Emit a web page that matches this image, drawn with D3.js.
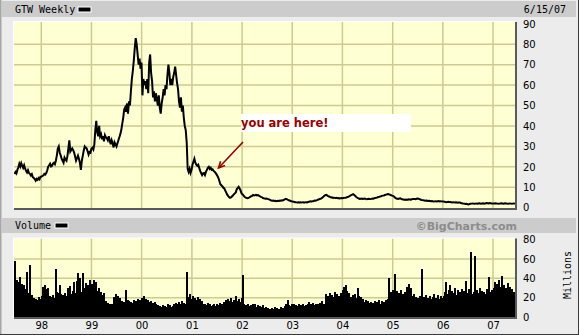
<!DOCTYPE html>
<html>
<head>
<meta charset="utf-8">
<script src="https://cdn.jsdelivr.net/npm/d3@7"></script>
<style>
  body { margin: 0; background: #ececec; }
  svg { display: block; }
</style>
</head>
<body>
<svg id="chart"></svg>
<script>
// Weekly closes (USD), one array per calendar year, first week 1997-06-20
const price1997 = [16.5,17.5,16.8,18.5,19.8,21.5,20.2,21.8,20.5,19.5,20.8,19.2,18,17.2,18.3,17,16.6,15.8,16.4,15,14.6,14,13.2,14.1,13.6,14.5,13.9,15.2];
const price1998 = [15.2,15.5,15.8,16.5,16.2,17,18.2,20,20.8,21.5,20.2,20.5,21.6,22,21.3,23,25.5,29,30,27,25.6,24,23,22,24.5,23.6,23,25.2,29,33,27.5,28.3,29,28.2,27,25.1,23,24.2,25.5,24,22,18.5,23,25.5,28,30,29.4,29,27.6,26,27.3,27];
const price1999 = [29,29.4,28.5,31,38,42.5,37,35,40,35,36,33.5,35,32.5,35.5,34.5,34,33,35,33,31,33,31.5,29.5,32,31,30,31.5,33,34.5,36,38,41,44,48,49,47,51,46,52,50,57,63,67,72,78,83,80,75,70,73,68,71];
const price2000 = [55,63,60,62,58,63,56,71,75,66,62,54,57,52,56,53,50,55,49,46,51,54,58,55,60,58,65,70,66,60,63,60,64,66,69,65,61,58,52,49,54,47,50,44,40,38,32,19,17.5,19,17,18.5];
const price2001 = [21,22.5,24,22,21,20.5,21,19.5,18,17,16,16.8,17,16,17.5,18.5,19.5,20,19,19.5,18.5,18.8,18,17.6,17,16.3,15.5,14.5,13,11.5,11,10.5,9.8,9.5,8.5,7.5,6.5,5.8,5.2,4.8,5,5.5,6,6.5,7,7.5,9,9.6,10.2,9.4,8.5,7];
const price2002 = [6.6,6,5.4,5,4.8,4.6,4.7,5,5.3,5.6,5.8,6.2,6,6.1,6.3,6,6.2,5.9,5.6,5.3,5.2,4.8,4.6,4.5,4.4,4.5,4.3,4.2,4,3.7,3.5,3.4,3.5,3.3,3.4,3.2,3.3,3.4,3.3,3.5,3.4,3.6,3.5,3.8,4.1,4.3,4.2,3.9,3.6,3.5,3.3,3.1];
const price2003 = [3,2.9,2.8,2.7,2.6,2.5,2.6,2.5,2.6,2.5,2.6,2.7,2.5,2.6,2.7,2.6,2.8,2.9,3,3.1,3,3.2,3.3,3.5,3.4,3.6,3.8,4,4.2,4.4,4.6,4.9,5.3,5.8,6.1,6.3,6,5.7,5.5,5.3,5,5.1,4.8,4.9,4.8,4.7,4.8,4.6,4.7,4.5,4.6,4.7];
const price2004 = [4.6,4.7,4.8,4.9,5,5.2,5.3,5.6,5.9,6.2,6.4,6.6,6.3,5.9,5.4,5,4.7,4.5,4.3,4.4,4.5,4.3,4.4,4.5,4.3,4.2,4.3,4.4,4.2,4.2,4.3,4.5,4.4,4.6,4.7,4.9,5,5.2,5.3,5.5,5.6,5.8,5.9,6,6.2,6.4,6.5,6.7,6.6,6.4,6.2,6,5.9];
const price2005 = [5.6,5.2,4.8,4.5,4.4,4.3,4.5,4.6,4.3,4.1,4,3.9,4,3.8,4,3.9,4.1,4,3.9,4.1,4.2,4.2,4.3,4.2,4.4,4.5,4.4,4.2,4,3.8,3.7,3.6,3.5,3.4,3.5,3.4,3.3,3.4,3.3,3.2,3.3,3.1,3,3.1,3.2,3.1,3.2,3.3,3.1,3.2,3.1,3];
const price2006 = [3,2.9,2.8,2.7,2.8,2.9,2.8,2.8,2.7,2.6,2.7,2.6,2.5,2.6,2.5,2.4,2.5,2.5,2.3,2.2,2.1,2,1.9,1.8,1.9,1.7,1.6,1.8,1.9,2,2.1,2,1.9,2,2.1,2,2.1,2.2,2.1,2,2.1,2.2,2,2.1,2.2,2.3,2.2,2.1,2.3,2.2,2.1,2];
const price2007 = [2,2.1,2.2,2.1,2,1.9,2,2.1,2.2,2.1,2,2.1,2.2,2.1,2,1.9,2,2.1,2,1.9,2,2.1,2,2];

// Weekly volume (millions of shares)
const vol1997 = [58,24,38,31,36,41,30,34,27,33,29,22,46,20,25,18,54,17,23,15,20,16,19,14,18,21,15,19];
const vol1998 = [22,31,27,33,29,24,30,19,22,17,21,16,23,18,20,50,26,21,25,33,24,20,23,18,25,21,22,30,19,32,24,20,27,36,22,25,37,45,23,28,40,21,26,45,24,30,35,22,33,28,38,26];
const vol1999 = [34,29,38,31,36,27,24,30,21,26,19,23,18,25,14,17,12,15,11,13,10,14,12,21,17,24,19,22,16,20,14,17,13,16,12,28,15,18,13,17,14,16,12,15,18,13,17,14,19,15,18,16,20];
const vol2000 = [17,22,15,19,14,18,16,13,17,12,15,14,11,16,13,9,12,8,11,10,7,12,9,11,8,10,13,9,12,7,10,11,14,12,15,10,13,16,11,14,12,17,13,15,11,14,47,21,18,24,17,19];
const vol2001 = [22,16,20,14,18,21,15,19,13,17,11,14,10,13,9,12,15,10,13,11,8,12,14,9,11,13,10,12,15,11,14,9,16,13,18,12,19,15,17,14,20,16,13,18,15,22,17,14,19,16,13,20];
const vol2002 = [43,14,10,12,9,13,11,8,12,10,14,9,11,13,8,10,12,9,11,7,10,12,9,8,10,7,9,6,8,7,9,6,8,10,7,9,6,8,7,10,8,6,9,7,11,13,10,18,12,9,11,14];
const vol2003 = [10,13,9,12,8,11,14,10,12,9,13,8,11,10,12,9,14,16,11,13,10,15,12,9,14,11,13,10,15,12,17,11,14,13,24,19,22,17,25,20,18,23,16,21,26,19,24,17,22,20,25,18];
const vol2004 = [28,31,24,33,27,22,25,18,21,17,23,19,24,16,20,18,30,22,17,21,15,19,16,14,18,12,17,15,13,16,11,15,14,17,12,16,13,18,14,11,15,17,13,16,12,18,14,19,40,22,26,19,28];
const vol2005 = [24,44,21,27,19,25,22,28,18,24,20,26,23,17,31,27,34,24,30,22,19,24,18,21,16,20,17,22,19,50,17,21,16,23,18,20,15,22,19,17,21,16,24,18,20,15,23,19,17,22,18,20];
const vol2006 = [22,26,36,24,20,28,33,22,27,19,25,30,23,21,28,24,18,26,22,29,20,27,24,37,25,21,29,23,67,24,20,26,63,22,28,19,25,30,21,27,23,18,26,22,24,29,21,41,26,23,28,24];
const vol2007 = [30,36,27,34,29,38,31,25,42,28,33,24,30,26,35,22,27,31,24,29,21,26,23,25];

const yearLabels = ["98","99","00","01","02","03","04","05","06","07"];
const priceTicks = [0,10,20,30,40,50,60,70,80,90];
const priceGrid = [10,20,30,40,50,60,70,80];
const volTicks = [0,20,40,60,80];
const volGrid = [20,40,60];

const prices = [].concat(price1997, price1998, price1999, price2000, price2001, price2002,
  price2003, price2004, price2005, price2006, price2007);
const volumes = [].concat(vol1997, vol1998, vol1999, vol2000, vol2001, vol2002,
  vol2003, vol2004, vol2005, vol2006, vol2007);

const start = new Date(1997, 5, 20);
const end = new Date(2007, 5, 15);
const weeks = prices.map((p, i) => ({ date: d3.timeDay.offset(start, 7 * i), close: p, vol: volumes[i] }));
const yearStarts = yearLabels.map(y => new Date((+y > 50 ? 1900 : 2000) + +y, 0, 1));

const W = 579, H = 335;
const P = { left: 14, right: 515, top: 22, bottom: 208.5 };   // price panel
const V = { left: 14, right: 515, top: 238.5, bottom: 317.5 }; // volume panel

const svg = d3.select("#chart").attr("width", W).attr("height", H)
  .style("font-family", "'DejaVu Sans', sans-serif");

const x = d3.scaleTime().domain([start, end]).range([14.5, 515.7]);
const yP = d3.scaleLinear().domain([0, 90]).range([207.7, 23.8]);
const yV = d3.scaleLinear().domain([0, 80]).range([317.1, 239.5]);

// frame and header bands
svg.append("rect").attr("width", W).attr("height", H).attr("fill", "#ececec");
svg.append("rect").attr("x", 2).attr("y", 1).attr("width", 574).attr("height", 16).attr("fill", "#cccccc");
svg.append("rect").attr("x", 2).attr("y", 218).attr("width", 574).attr("height", 15).attr("fill", "#cccccc");
svg.append("line").attr("x1", 0.5).attr("x2", 0.5).attr("y1", 0).attr("y2", H).attr("stroke", "#a6a6a6").attr("stroke-width", 2);
svg.append("line").attr("x1", W - 0.5).attr("x2", W - 0.5).attr("y1", 0).attr("y2", H).attr("stroke", "#3a3a3a");
svg.append("line").attr("x1", 0).attr("x2", W).attr("y1", H - 0.5).attr("y2", H - 0.5).attr("stroke", "#3a3a3a");

const mono = "'DejaVu Sans Mono', monospace";
svg.append("text").attr("x", 15).attr("y", 13).attr("font-family", mono).attr("font-size", 10).text("GTW Weekly");
svg.append("rect").attr("x", 78).attr("y", 7).attr("width", 13).attr("height", 5).attr("fill", "#000").attr("stroke", "#fff");
svg.append("text").attr("x", 566).attr("y", 13).attr("text-anchor", "end").attr("font-family", mono).attr("font-size", 10).text("6/15/07");
svg.append("text").attr("x", 15).attr("y", 229).attr("font-family", mono).attr("font-size", 10).text("Volume");
svg.append("rect").attr("x", 55).attr("y", 223).attr("width", 13).attr("height", 5).attr("fill", "#000").attr("stroke", "#fff");
svg.append("text").attr("x", 517).attr("y", 230).attr("text-anchor", "end").attr("font-size", 11)
  .attr("font-weight", "bold").attr("fill", "#8c8c8c").text("©BigCharts.com");

function panel(b, y, grid, id) {
  const g = svg.append("g");
  g.append("rect").attr("x", b.left).attr("y", b.top).attr("width", b.right - b.left)
    .attr("height", b.bottom - b.top).attr("fill", "#ffffd4");
  g.selectAll(".vg").data(yearStarts).join("line")
    .attr("x1", d => x(d)).attr("x2", d => x(d)).attr("y1", b.top).attr("y2", b.bottom)
    .attr("stroke", "#cbcb92").attr("stroke-width", 1.5);
  g.selectAll(".hg").data(grid).join("line")
    .attr("x1", b.left).attr("x2", b.right).attr("y1", d => y(d)).attr("y2", d => y(d))
    .attr("stroke", "#cbcb92").attr("stroke-width", 1.5);
  svg.append("clipPath").attr("id", id).append("rect")
    .attr("x", b.left).attr("y", b.top).attr("width", b.right - b.left).attr("height", b.bottom - b.top);
  return g;
}

function bevel(b) {
  svg.append("path").attr("d", `M${b.left - 0.5},${b.bottom}V${b.top - 0.5}H${b.right}`)
    .attr("fill", "none").attr("stroke", "#ffffff").attr("stroke-width", 1);
  svg.append("path").attr("d", `M${b.left},${b.bottom + 0.5}H${b.right + 1}V${b.top}`)
    .attr("fill", "none").attr("stroke", "#5a5a5a").attr("stroke-width", 2);
}

// price panel
panel(P, yP, priceGrid, "clipP");
svg.append("path").datum(weeks).attr("clip-path", "url(#clipP)")
  .attr("fill", "none").attr("stroke", "#000").attr("stroke-width", 2).attr("stroke-linejoin", "miter")
  .attr("d", d3.line().x(d => x(d.date)).y(d => yP(d.close)));
bevel(P);

// volume panel
panel(V, yV, volGrid, "clipV");
svg.append("g").attr("clip-path", "url(#clipV)").attr("shape-rendering", "crispEdges")
  .selectAll("rect").data(weeks).join("rect")
  .attr("x", d => Math.floor(x(d.date))).attr("width", 1.5)
  .attr("y", d => yV(d.vol)).attr("height", d => yV(0) - yV(d.vol)).attr("fill", "#000");
bevel(V);

// axes
const priceAxis = svg.append("g").attr("transform", "translate(518,0)")
  .call(d3.axisRight(yP).tickValues(priceTicks).tickSize(0).tickPadding(5));
const volAxis = svg.append("g").attr("transform", "translate(518,0)")
  .call(d3.axisRight(yV).tickValues(volTicks).tickSize(0).tickPadding(5));
const timeAxis = svg.append("g").attr("transform", "translate(0,319)")
  .call(d3.axisBottom(x).tickValues(yearStarts).tickSize(0).tickPadding(3).tickFormat(d3.timeFormat("%y")));
[priceAxis, volAxis, timeAxis].forEach(a => {
  a.select(".domain").remove();
  a.selectAll("text").attr("font-size", 10).attr("font-family", "'DejaVu Sans', sans-serif").attr("fill", "#000");
});

svg.append("text").attr("transform", "translate(571,275) rotate(-90)").attr("text-anchor", "middle")
  .attr("font-family", mono).attr("font-size", 10).text("Millions");

// annotation
svg.append("rect").attr("x", 241).attr("y", 114).attr("width", 170).attr("height", 18).attr("fill", "#fff");
svg.append("text").attr("x", 241).attr("y", 127).attr("font-size", 11.5).attr("font-weight", "bold")
  .attr("fill", "#990000").text("you are here!");
const ax1 = 243, ay1 = 142, ax2 = 218.5, ay2 = 168;
const ang = Math.atan2(ay2 - ay1, ax2 - ax1);
svg.append("line").attr("x1", ax1).attr("y1", ay1).attr("x2", ax2).attr("y2", ay2)
  .attr("stroke", "#990000").attr("stroke-width", 1.6);
const head = [ang + Math.PI - 0.45, ang + Math.PI + 0.45].map(a => [ax2 + 7 * Math.cos(a), ay2 + 7 * Math.sin(a)]);
svg.append("path").attr("d", `M${head[0]}L${ax2},${ay2}L${head[1]}`)
  .attr("fill", "none").attr("stroke", "#990000").attr("stroke-width", 1.6);
</script>
</body>
</html>
